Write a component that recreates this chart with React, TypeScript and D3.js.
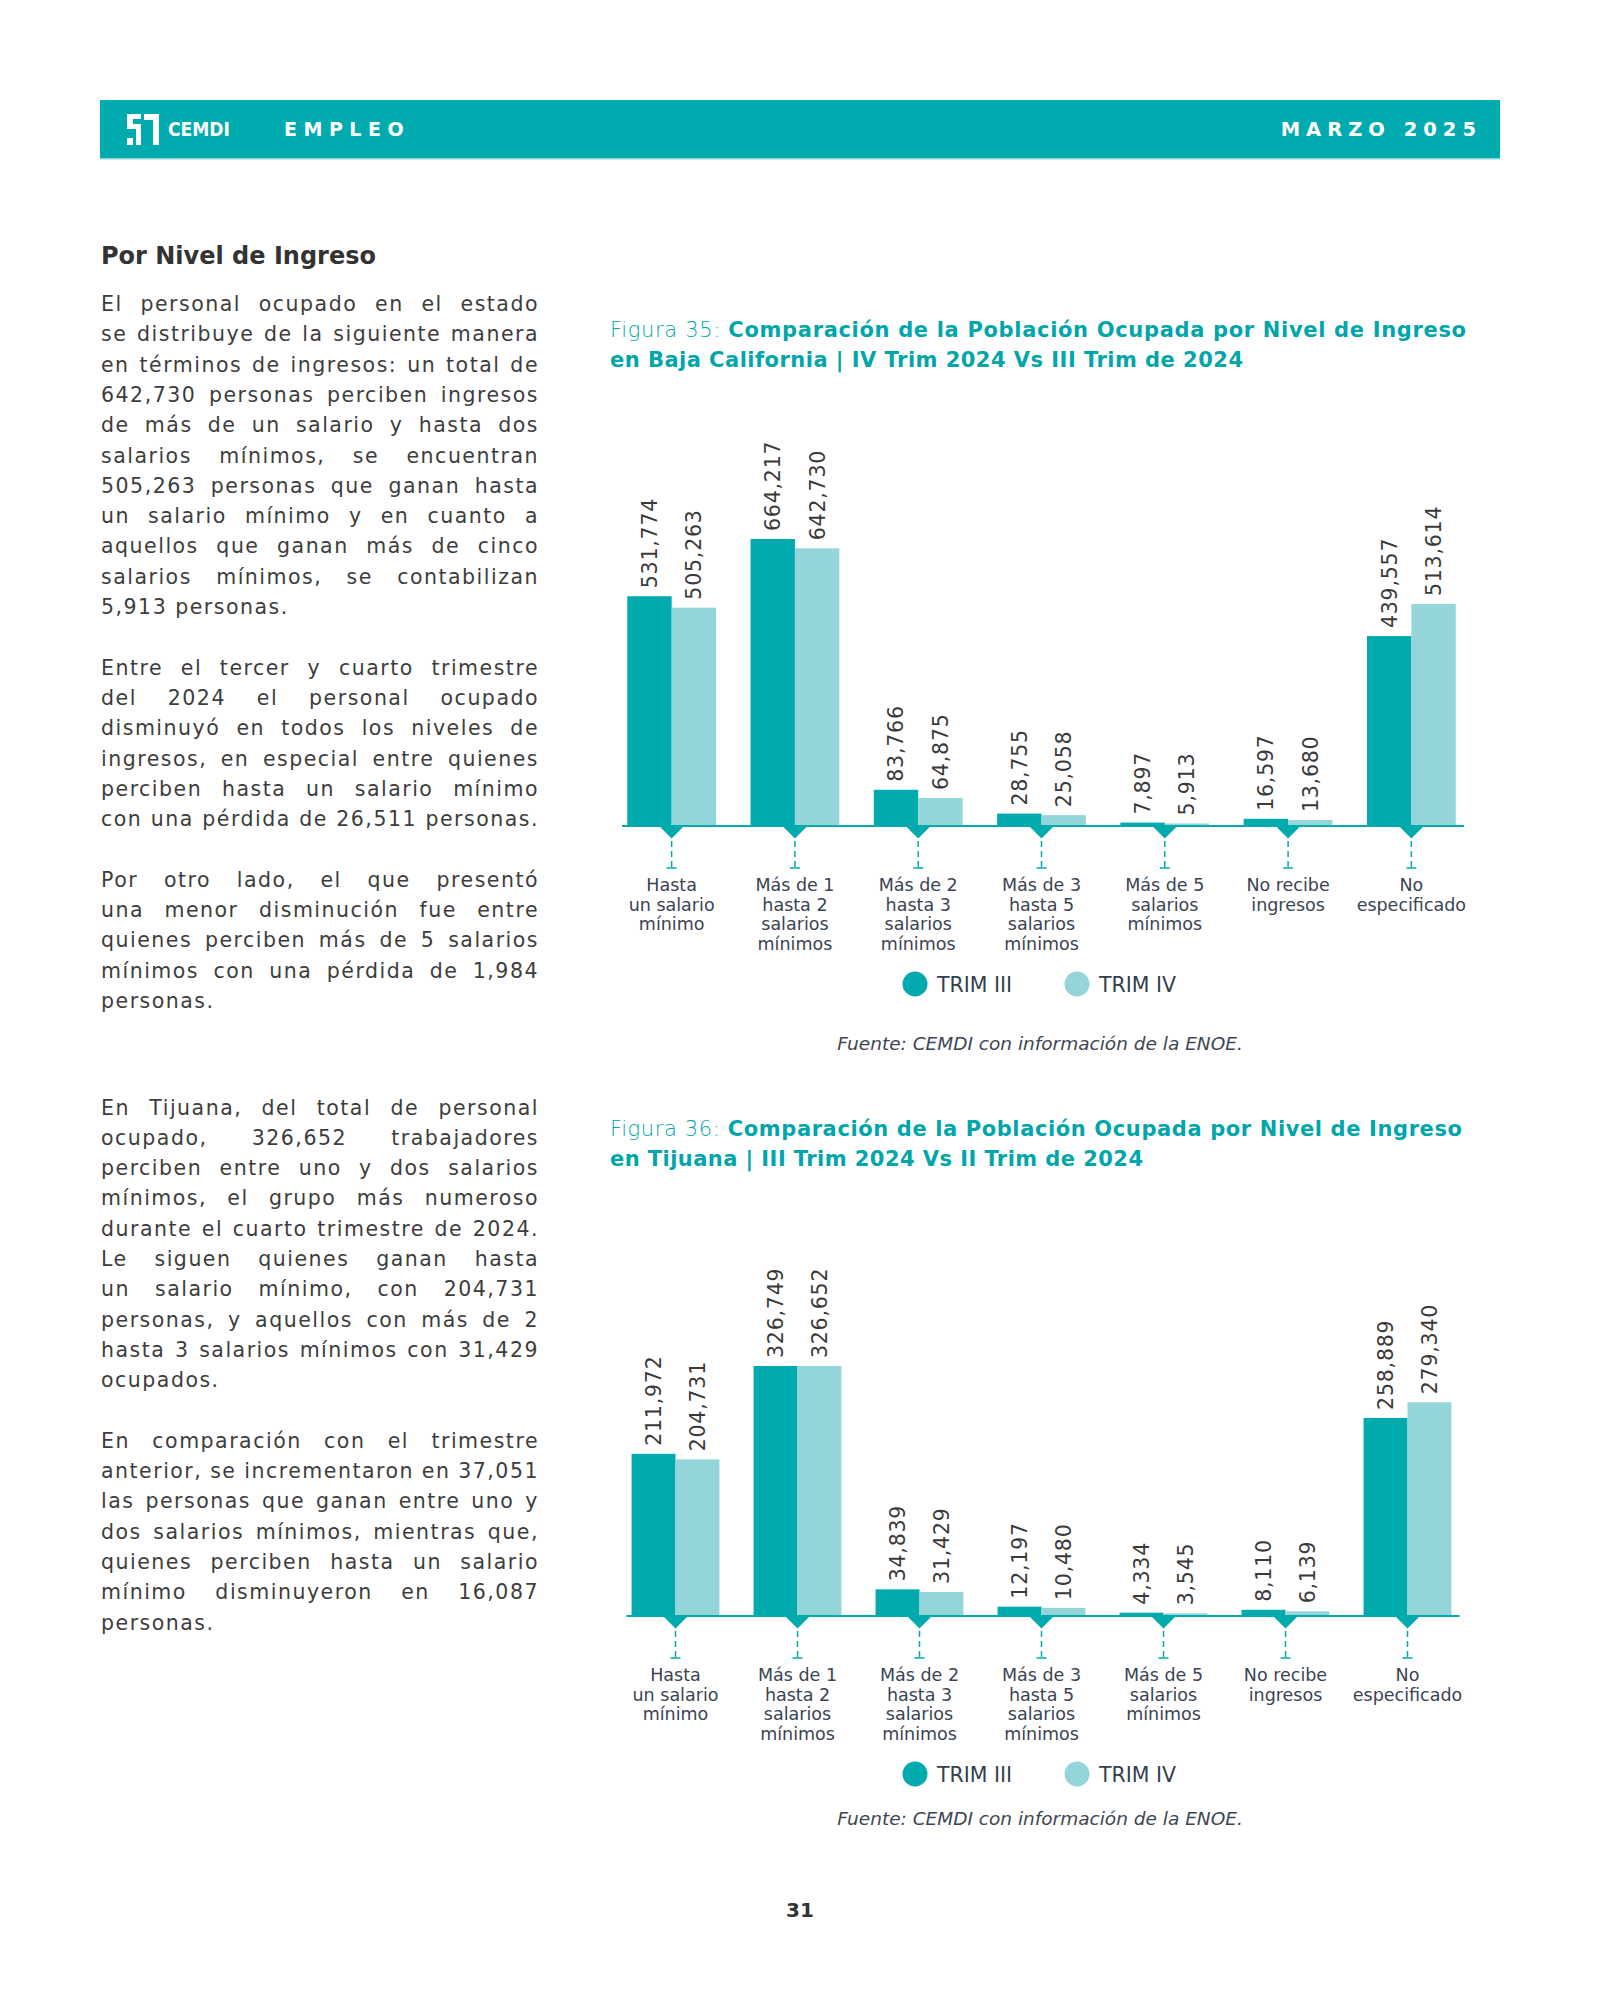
import React, { useEffect, useRef } from 'react';
import * as d3 from 'd3';

// Categories (keys + wrapped lines as in the original)
const categories = ['hasta1', 'de1a2', 'de2a3', 'de3a5', 'mas5', 'noRecibe', 'noEsp'];
const categoryLines = [
    ['Hasta', 'un salario', 'mínimo'],
    ['Más de 1', 'hasta 2', 'salarios', 'mínimos'],
    ['Más de 2', 'hasta 3', 'salarios', 'mínimos'],
    ['Más de 3', 'hasta 5', 'salarios', 'mínimos'],
    ['Más de 5', 'salarios', 'mínimos'],
    ['No recibe', 'ingresos'],
    ['No', 'especificado'],
];
const seriesNames = ['TRIM III', 'TRIM IV'];

// Figura 35 - Baja California
const bcTrim3 = [531774, 664217, 83766, 28755, 7897, 16597, 439557];
const bcTrim4 = [505263, 642730, 64875, 25058, 5913, 13680, 513614];

// Figura 36 - Tijuana
const tjTrim3 = [211972, 326749, 34839, 12197, 4334, 8110, 258889];
const tjTrim4 = [204731, 326652, 31429, 10480, 3545, 6139, 279340];

const TEAL = '#00aaad';
const LIGHT = '#93d5d9';
const TITLE = '#00a6aa';
const TEXT = '#3d3d3d';
const LABEL = '#3a4452';
const FONT = "'DejaVu Sans', Verdana, sans-serif";

// left column paragraphs, line by line as printed
const block1 = [
    [
        'El personal ocupado en el estado',
        'se distribuye de la siguiente manera',
        'en términos de ingresos: un total de',
        '642,730 personas perciben ingresos',
        'de más de un salario y hasta dos',
        'salarios mínimos, se encuentran',
        '505,263 personas que ganan hasta',
        'un salario mínimo y en cuanto a',
        'aquellos que ganan más de cinco',
        'salarios mínimos, se contabilizan',
        '5,913 personas.',
    ],
    [
        'Entre el tercer y cuarto trimestre',
        'del 2024 el personal ocupado',
        'disminuyó en todos los niveles de',
        'ingresos, en especial entre quienes',
        'perciben hasta un salario mínimo',
        'con una pérdida de 26,511 personas.',
    ],
    [
        'Por otro lado, el que presentó',
        'una menor disminución fue entre',
        'quienes perciben más de 5 salarios',
        'mínimos con una pérdida de 1,984',
        'personas.',
    ],
];
const block2 = [
    [
        'En Tijuana, del total de personal',
        'ocupado, 326,652 trabajadores',
        'perciben entre uno y dos salarios',
        'mínimos, el grupo más numeroso',
        'durante el cuarto trimestre de 2024.',
        'Le siguen quienes ganan hasta',
        'un salario mínimo, con 204,731',
        'personas, y aquellos con más de 2',
        'hasta 3 salarios mínimos con 31,429',
        'ocupados.',
    ],
    [
        'En comparación con el trimestre',
        'anterior, se incrementaron en 37,051',
        'las personas que ganan entre uno y',
        'dos salarios mínimos, mientras que,',
        'quienes perciben hasta un salario',
        'mínimo disminuyeron en 16,087',
        'personas.',
    ],
];
const shortLastLines = ['5,913 personas.', 'personas.', 'ocupados.'];

const fmt = d3.format(',');

function fitWidth(sel: any, target: number) {
    const node = sel.node() as SVGTextElement;
    const w = node.getComputedTextLength();
    if (Math.abs(w - target) > 1) sel.attr('textLength', target).attr('lengthAdjust', 'spacing');
}

function drawParagraphs(svg: any, paras: string[][], top: number) {
    const left = 101, width = 438, lh = 30.3;
    let row = 0;
    paras.forEach(p => {
        p.forEach((line, i) => {
            const t = svg.append('text')
                .attr('x', left)
                .attr('y', top + row * lh)
                .attr('font-family', FONT)
                .attr('font-size', 20.5)
                .attr('fill', TEXT)
                .style('letter-spacing', '1.5px')
                .text(line);
            const isLast = i === p.length - 1 && shortLastLines.includes(line);
            if (!isLast) {
                const w = (t.node() as SVGTextElement).getComputedTextLength();
                const spaces = (line.match(/ /g) || []).length;
                if (spaces > 0) t.style('word-spacing', `${(width - w) / spaces}px`);
            }
            row++;
        });
        row++; // blank line between paragraphs
    });
}

interface ChartCfg {
    label: string;
    boldLine1: string;
    line2: string;
    titleY: number;
    titleW: [number, number];
    t3: number[];
    t4: number[];
    baseline: number;
    maxH: number;
    x0: number;
    x1: number;
    sourceY: number;
}

function drawChart(svg: any, cfg: ChartCfg) {
    const g = svg.append('g');

    // title
    const l1 = g.append('text')
        .attr('x', 610).attr('y', cfg.titleY)
        .attr('font-family', FONT).attr('font-size', 21).attr('fill', TITLE);
    l1.append('tspan').attr('font-weight', 300).text(cfg.label + ' ');
    l1.append('tspan').attr('font-weight', 'bold').text(cfg.boldLine1);
    fitWidth(l1, cfg.titleW[0]);
    const l2 = g.append('text')
        .attr('x', 610).attr('y', cfg.titleY + 30)
        .attr('font-family', FONT).attr('font-size', 21).attr('font-weight', 'bold').attr('fill', TITLE)
        .text(cfg.line2);
    fitWidth(l2, cfg.titleW[1]);

    const x = d3.scaleBand<string>()
        .domain(categories)
        .range([cfg.x0, cfg.x1])
        .paddingInner(0.28)
        .paddingOuter(0.14);
    const inner = d3.scaleBand<string>()
        .domain(seriesNames)
        .range([0, x.bandwidth()]);
    const maxV = d3.max([...cfg.t3, ...cfg.t4]) || 1;
    const y = d3.scaleLinear()
        .domain([0, maxV])
        .range([cfg.baseline, cfg.baseline - cfg.maxH]);

    const rows = categories.map((c, i) => ({ cat: c, vals: [cfg.t3[i], cfg.t4[i]] }));

    // bars + rotated value labels
    rows.forEach(r => {
        r.vals.forEach((v, si) => {
            const bx = x(r.cat)! + inner(seriesNames[si])!;
            g.append('rect')
                .attr('x', bx)
                .attr('y', y(v))
                .attr('width', inner.bandwidth())
                .attr('height', cfg.baseline - y(v))
                .attr('fill', si === 0 ? TEAL : LIGHT);
            const cx = bx + inner.bandwidth() / 2;
            const ly = y(v) - 8;
            g.append('text')
                .attr('transform', `translate(${cx},${ly}) rotate(-90)`)
                .attr('dy', '0.36em')
                .attr('font-family', FONT)
                .attr('font-size', 20.5)
                .attr('fill', '#3a3a3a')
                .style('letter-spacing', '0.8px')
                .text(fmt(v));
        });
    });

    // axis line
    g.append('line')
        .attr('x1', x.range()[0] + 12).attr('x2', x.range()[1] - 9)
        .attr('y1', cfg.baseline).attr('y2', cfg.baseline)
        .attr('stroke', TEAL).attr('stroke-width', 2);

    // pointer markers and category labels
    categories.forEach((c, i) => {
        const cx = x(c)! + x.bandwidth() / 2;
        const b = cfg.baseline;
        g.append('path')
            .attr('d', `M${cx - 12.5},${b} L${cx + 12.5},${b} L${cx},${b + 12.5} Z`)
            .attr('fill', TEAL);
        g.append('line')
            .attr('x1', cx).attr('x2', cx)
            .attr('y1', b + 15).attr('y2', b + 42)
            .attr('stroke', TEAL).attr('stroke-width', 1.5)
            .attr('stroke-dasharray', '6,4');
        g.append('line')
            .attr('x1', cx - 5).attr('x2', cx + 5)
            .attr('y1', b + 42).attr('y2', b + 42)
            .attr('stroke', TEAL).attr('stroke-width', 1.5);
        categoryLines[i].forEach((ln, k) => {
            g.append('text')
                .attr('x', cx)
                .attr('y', b + 65 + k * 19.7)
                .attr('text-anchor', 'middle')
                .attr('font-family', FONT)
                .attr('font-size', 17.5)
                .attr('fill', LABEL)
                .text(ln);
        });
    });

    // legend
    const legY = cfg.baseline + 158;
    const legX = [915, 1077];
    seriesNames.forEach((s, i) => {
        g.append('circle')
            .attr('cx', legX[i]).attr('cy', legY).attr('r', 12.5)
            .attr('fill', i === 0 ? TEAL : LIGHT);
        g.append('text')
            .attr('x', legX[i] + 22).attr('y', legY + 7.5)
            .attr('font-family', FONT).attr('font-size', 20.5)
            .attr('fill', '#333f4d')
            .text(s);
    });

    // source
    g.append('text')
        .attr('x', 1040).attr('y', cfg.sourceY)
        .attr('text-anchor', 'middle')
        .attr('font-family', FONT).attr('font-size', 18.5)
        .attr('font-style', 'italic')
        .attr('fill', '#3d4654')
        .text('Fuente: CEMDI con información de la ENOE.');
}

export default function App() {
    const svgRef = useRef<SVGSVGElement>(null);

    useEffect(() => {
        document.body.style.margin = '0';
        if (!svgRef.current) return;
        const svg = d3.select(svgRef.current);
        svg.selectAll('*').remove();

        // Header band
        svg.append('rect').attr('x', 100).attr('y', 100).attr('width', 1400).attr('height', 59).attr('fill', '#00abb0');
        svg.append('rect').attr('x', 100).attr('y', 158).attr('width', 1400).attr('height', 1.5).attr('fill', '#8fd6d9');
        const logo = svg.append('g').attr('fill', '#fff');
        [
            [127, 114, 14, 5], [127, 114, 6, 14], [127, 124, 14, 5], [136, 124, 5, 21],
            [127, 138, 6, 7], [144, 114, 15, 6], [153, 114, 6, 31],
        ].forEach(([rx, ry, rw, rh]) => {
            logo.append('rect').attr('x', rx).attr('y', ry).attr('width', rw).attr('height', rh);
        });
        svg.append('text')
            .attr('x', 168).attr('y', 136)
            .attr('font-family', FONT).attr('font-weight', 'bold').attr('font-size', 20)
            .attr('fill', '#fff')
            .attr('textLength', 62).attr('lengthAdjust', 'spacingAndGlyphs')
            .text('CEMDI');
        svg.append('text')
            .attr('x', 284).attr('y', 136)
            .attr('font-family', FONT).attr('font-weight', 'bold').attr('font-size', 19)
            .attr('fill', '#fff')
            .style('letter-spacing', '6.5px')
            .text('EMPLEO');
        svg.append('text')
            .attr('x', 1482).attr('y', 136)
            .attr('text-anchor', 'end')
            .attr('font-family', FONT).attr('font-weight', 'bold').attr('font-size', 19.5)
            .attr('fill', '#fff')
            .style('letter-spacing', '6px')
            .text('MARZO 2025');

        // Left column
        svg.append('text')
            .attr('x', 101).attr('y', 264)
            .attr('font-family', FONT).attr('font-weight', 'bold').attr('font-size', 24)
            .attr('fill', '#333')
            .text('Por Nivel de Ingreso');
        drawParagraphs(svg, block1, 311);
        drawParagraphs(svg, block2, 1114.5);

        drawChart(svg, {
            label: 'Figura 35:',
            boldLine1: 'Comparación de la Población Ocupada por Nivel de Ingreso',
            line2: 'en Baja California | IV Trim 2024 Vs III Trim de 2024',
            titleY: 337,
            titleW: [856, 633],
            t3: bcTrim3,
            t4: bcTrim4,
            baseline: 826,
            maxH: 287,
            x0: 610,
            x1: 1473,
            sourceY: 1050,
        });
        drawChart(svg, {
            label: 'Figura 36:',
            boldLine1: 'Comparación de la Población Ocupada por Nivel de Ingreso',
            line2: 'en Tijuana | III Trim 2024 Vs II Trim de 2024',
            titleY: 1136,
            titleW: [852, 533],
            t3: tjTrim3,
            t4: tjTrim4,
            baseline: 1616,
            maxH: 250,
            x0: 614.5,
            x1: 1468.5,
            sourceY: 1825,
        });

        // page number
        svg.append('text')
            .attr('x', 800).attr('y', 1917)
            .attr('text-anchor', 'middle')
            .attr('font-family', FONT).attr('font-weight', 'bold').attr('font-size', 20)
            .attr('fill', '#333')
            .text('31');
    }, []);

    return <svg ref={svgRef} width={1600} height={2000} style={{ display: 'block', background: '#fff' }} />;
}
